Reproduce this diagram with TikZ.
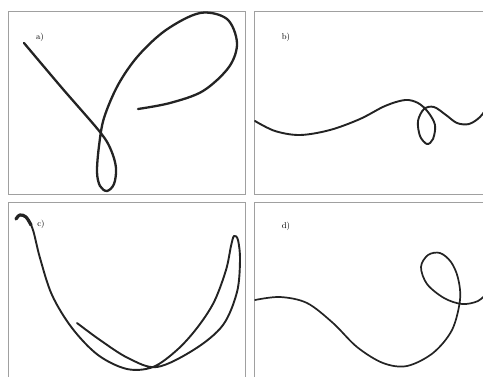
\documentclass[tikz,border=0pt]{standalone}
\usepackage{tikz}
\usepackage{xcolor}
\definecolor{framecolor}{RGB}{160, 160, 160}
\definecolor{curvecolor}{RGB}{35, 35, 35}

\begin{document}
\begin{tikzpicture}[x=1pt,y=-1pt,
    panelframe/.style={framecolor,line width=1pt},
    wire/.style={curvecolor,line width=1.9pt,line cap=round,line join=round},
    panellabel/.style={anchor=center,inner sep=0pt,font=\fontsize{8.5}{9}\selectfont}]
        \useasboundingbox (0,0) rectangle (483,376);
        \clip (0,0) rectangle (483,376);
        % Four panel frames
        \foreach \x/\y in {8/11,254/11,8/202,254/202}
            \draw[panelframe] (\x,\y) rectangle ++(237,183);
        % Panel labels
        \node[panellabel] (labela) at (40,37) {a)};
        \node[panellabel] (labelb) at (286,37) {b)};
        \node[panellabel] (labelc) at (41,224) {c)};
        \node[panellabel] (labeld) at (286,226) {d)};
        % a) straight run, small loop below, big loop above
        \draw[wire,line width=2.3pt] plot[smooth,tension=0.55] coordinates {
            (24,43) (62,88) (100,132) (111,150) (116,168) (114,184)
            (107,191) (100,186) (97,172) (99,146) (104,118) (118,85)
            (138,56) (166,30) (200,13) (227,19) (237,43) (229,67)
            (203,91) (170,103) (138,109)};
        % b) gentle wave with a hanging curl
        \draw[wire] plot[smooth,tension=0.55] coordinates {
            (255,121) (275,131) (300,135) (330,130) (360,119) (385,106)
            (405,100) (418,103) (428,112) (435,125) (433,139) (427,144)
            (420,136) (418,121) (424,109) (434,107) (446,115) (457,123)
            (469,124) (480,117) (488,106)};
        % c) hook at left, deep U, hook at right folding back inside
        \draw[wire,line width=3.2pt] plot[smooth,tension=0.6] coordinates {
            (16,219) (20,215) (26,217) (31,225)};
        \draw[wire] plot[smooth,tension=0.55] coordinates {
            (16,219) (20,215) (27,218) (33,230) (40,258) (52,295) (72,328)
            (98,355) (127,369) (153,367) (177,350) (197,328) (214,302)
            (226,270) (231,246) (234,236) (238,240) (240,260) (237,292)
            (223,325) (195,349) (157,367) (128,358) (100,340) (77,323)};
        % d) wave down then up into a loop
        \draw[wire,line width=1.7pt] plot[smooth,tension=0.55] coordinates {
            (255,300) (280,297) (307,303) (333,323) (357,347) (383,363)
            (407,366) (433,353) (452,330) (460,300) (458,278) (451,262)
            (440,253) (428,255) (421,267) (427,284) (444,298) (462,304)
            (478,301) (488,292)};
    \end{tikzpicture}
\end{document}
